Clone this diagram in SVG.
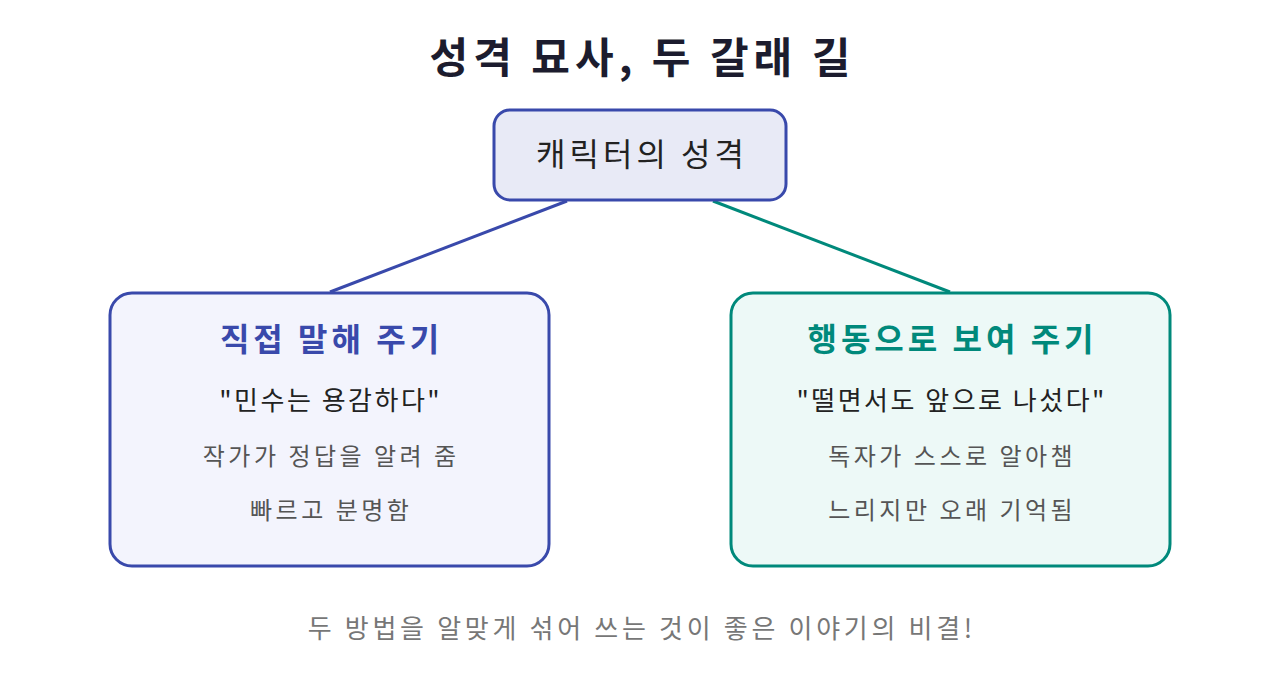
<svg xmlns="http://www.w3.org/2000/svg" width="1280" height="695" viewBox="0 0 1280 695">
<style>
text{font-family:"Noto Sans CJK KR","Noto Sans",sans-serif;text-anchor:middle}
.title{font-size:42px;font-weight:700;fill:#1c1c2e;letter-spacing:5px}
.root{font-size:32px;fill:#222;letter-spacing:4px}
.h{font-size:32px;font-weight:700;letter-spacing:4px}
.q{font-size:26px;fill:#222;letter-spacing:2.5px}
.s{font-size:24px;fill:#555;letter-spacing:3.5px}
.foot{font-size:26px;fill:#777;letter-spacing:3.7px}
.edge{stroke-width:3;fill:none}
</style>
<rect width="1280" height="695" fill="#ffffff"/>
<text class="title" x="642.5" y="73">성격 묘사, 두 갈래 길</text>
<g id="connectors">
<line class="edge" x1="567" y1="201" x2="330" y2="292" stroke="#3949ab"/>
<line class="edge" x1="713" y1="201" x2="950" y2="292" stroke="#00897b"/>
</g>
<g id="root">
<rect x="494" y="110" width="292" height="90" rx="16" fill="#e8eaf6" stroke="#3949ab" stroke-width="3"/>
<text class="root" x="642" y="166">캐릭터의 성격</text>
</g>
<g id="tell">
<rect x="110" y="293" width="439" height="273" rx="22" fill="#f3f4fd" stroke="#3949ab" stroke-width="3"/>
<text class="h" x="331.5" y="351" fill="#3949ab">직접 말해 주기</text>
<text class="q" x="330.7" y="410">"민수는 용감하다"</text>
<text class="s" x="331.2" y="465">작가가 정답을 알려 줌</text>
<text class="s" x="331.2" y="519">빠르고 분명함</text>
</g>
<g id="show">
<rect x="731" y="293" width="439" height="273" rx="22" fill="#edf9f7" stroke="#00897b" stroke-width="3"/>
<text class="h" x="952.5" y="351" fill="#00897b">행동으로 보여 주기</text>
<text class="q" x="951.7" y="410">"떨면서도 앞으로 나섰다"</text>
<text class="s" x="952.2" y="465">독자가 스스로 알아챔</text>
<text class="s" x="952.2" y="519">느리지만 오래 기억됨</text>
</g>
<text class="foot" x="641.8" y="638">두 방법을 알맞게 섞어 쓰는 것이 좋은 이야기의 비결!</text>
</svg>
